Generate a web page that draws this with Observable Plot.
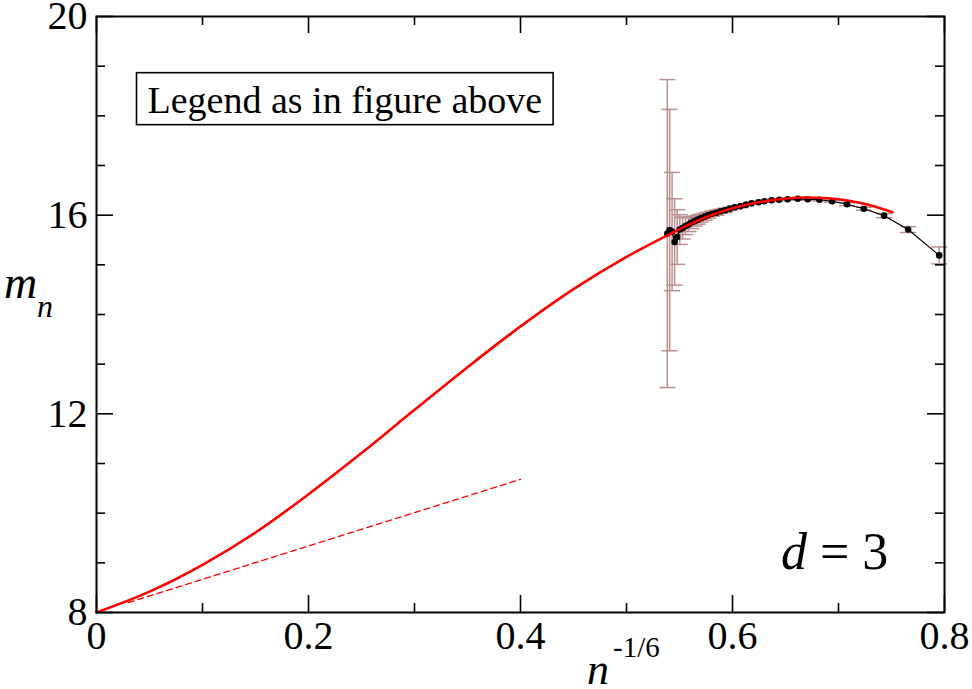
<!DOCTYPE html>
<html>
<head>
<meta charset="utf-8">
<script src="https://cdn.jsdelivr.net/npm/d3@7"></script>
<script src="https://cdn.jsdelivr.net/npm/@observablehq/plot@0.6"></script>
<style>
  html, body { margin: 0; padding: 0; background: #fff; }
  #chart svg { display: block; }
</style>
</head>
<body>
<div id="chart"></div>
<script>
// ---- data ----
const xMajor = [0, 0.2, 0.4, 0.6, 0.8];
const xMinor = [0.1, 0.3, 0.5, 0.7];
const yMajor = [8, 12, 16, 20];
const yMinor = [9, 10, 11, 13, 14, 15, 17, 18, 19];

// simulation points: x = n^(-1/6), m_n, error
const ptX = [0.5385, 0.5407, 0.5430, 0.5454, 0.5478, 0.5503, 0.5529, 0.5556, 0.5584, 0.5612,
             0.5642, 0.5673, 0.5705, 0.5738, 0.5772, 0.5808, 0.5848, 0.5888, 0.5930, 0.5975,
             0.6020, 0.6075, 0.6126, 0.6180, 0.6245, 0.6300, 0.6370, 0.6440, 0.6520, 0.6616,
             0.6710, 0.6820, 0.6940, 0.7080, 0.7239, 0.7430, 0.7657, 0.7950];
const ptY = [15.63, 15.70, 15.67, 15.46, 15.56, 15.71, 15.74, 15.78, 15.81, 15.85,
             15.88, 15.91, 15.94, 15.97, 16.00, 16.03, 16.05, 16.08, 16.10, 16.13,
             16.16, 16.18, 16.21, 16.24, 16.26, 16.28, 16.30, 16.31, 16.32, 16.33,
             16.32, 16.31, 16.28, 16.22, 16.13, 15.99, 15.71, 15.19];
const ptErr = [3.10, 2.43, 1.19, 0.87, 0.55, 0.30, 0.22, 0.17, 0.14, 0.12,
               0.10, 0.09, 0.08, 0.07, 0.06, 0.05, 0.05, 0.04, 0.04, 0.03,
               0.03, 0.03, 0.02, 0.02, 0.02, 0.02, 0.02, 0.02, 0.02, 0.02,
               0.02, 0.02, 0.02, 0.03, 0.03, 0.04, 0.06, 0.17];

// red fit curve
const fitX = [0, 0.05, 0.1, 0.15, 0.2, 0.25, 0.3, 0.35, 0.4, 0.45, 0.5, 0.54,
              0.56, 0.58, 0.60, 0.62, 0.64, 0.66, 0.68, 0.70, 0.72, 0.735, 0.751];
const fitY = [8.0, 8.42, 8.96, 9.61, 10.38, 11.21, 12.08, 12.94, 13.76, 14.51, 15.16, 15.61,
              15.82, 16.00, 16.14, 16.24, 16.31, 16.35, 16.35, 16.32, 16.25, 16.17, 16.06];

// red dashed asymptote
const dashX = [0.03, 0.4];
const dashY = [8.2, 10.68];

const legendText = "Legend as in figure above";

// ---- tables ----
const pts = ptX.map((x, i) => ({x, y: ptY[i], e: ptErr[i]}));
const fit = fitX.map((x, i) => ({x, y: fitY[i]}));
const dash = dashX.map((x, i) => ({x, y: dashY[i]}));

const W = 972, H = 689, mL = 96, mR = 28, mT = 16, mB = 77;
const pW = W - mL - mR, pH = H - mT - mB;
const errColor = "#bc8f8f";
const ff = "'Liberation Serif', 'Times New Roman', serif";
const capSymbol = { draw(ctx) { ctx.moveTo(-8, 0); ctx.lineTo(8, 0); } };

const chart = Plot.plot({
  width: W, height: H,
  marginLeft: mL, marginRight: mR, marginTop: mT, marginBottom: mB,
  style: { fontFamily: ff, fontSize: "40px", background: "#fff", color: "#000", overflow: "visible" },
  x: { domain: [0, 0.8], label: null },
  y: { domain: [8, 20], label: null },
  marks: [
    // error bars
    Plot.ruleX(pts, { x: "x", y1: d => d.y - d.e, y2: d => d.y + d.e, stroke: errColor, strokeWidth: 1.5 }),
    Plot.dot(pts, { x: "x", y: d => d.y + d.e, symbol: capSymbol, stroke: errColor, fill: "none", strokeWidth: 1.5 }),
    Plot.dot(pts, { x: "x", y: d => d.y - d.e, symbol: capSymbol, stroke: errColor, fill: "none", strokeWidth: 1.5 }),
    // data line and points
    Plot.line(pts, { x: "x", y: "y", stroke: "#000", strokeWidth: 1.2 }),
    Plot.dot(pts, { x: "x", y: "y", r: 3.3, fill: "#000", stroke: "none" }),
    // fits
    Plot.line(fit, { x: "x", y: "y", stroke: "#ff0000", strokeWidth: 2.6, curve: "catmull-rom" }),
    Plot.line(dash, { x: "x", y: "y", stroke: "#ff0000", strokeWidth: 1.3, strokeDasharray: "6,4" }),
    // inward ticks on all four sides
    Plot.ruleX(xMajor, { x: d => d, insetTop: pH - 17, stroke: "#000", strokeWidth: 1.6 }),
    Plot.ruleX(xMajor, { x: d => d, insetBottom: pH - 17, stroke: "#000", strokeWidth: 1.6 }),
    Plot.ruleX(xMinor, { x: d => d, insetTop: pH - 9, stroke: "#000", strokeWidth: 1.6 }),
    Plot.ruleX(xMinor, { x: d => d, insetBottom: pH - 9, stroke: "#000", strokeWidth: 1.6 }),
    Plot.ruleY(yMajor, { y: d => d, insetRight: pW - 17, stroke: "#000", strokeWidth: 1.6 }),
    Plot.ruleY(yMajor, { y: d => d, insetLeft: pW - 17, stroke: "#000", strokeWidth: 1.6 }),
    Plot.ruleY(yMinor, { y: d => d, insetRight: pW - 9, stroke: "#000", strokeWidth: 1.6 }),
    Plot.ruleY(yMinor, { y: d => d, insetLeft: pW - 9, stroke: "#000", strokeWidth: 1.6 }),
    Plot.frame({ stroke: "#000", strokeWidth: 2 }),
    // tick labels
    Plot.axisX({ ticks: xMajor, tickSize: 0, tickPadding: 8, tickFormat: d => String(d), fontSize: 40, fontFamily: ff, label: null }),
    Plot.axisY({ ticks: yMajor, tickSize: 0, tickPadding: 9, tickFormat: d => String(d), fontSize: 40, fontFamily: ff, label: null }),
    // legend note
    Plot.text([legendText], { text: d => d, frameAnchor: "top-left", dx: 51, dy: 84, textAnchor: "start", lineAnchor: "middle", fontSize: 38, fontFamily: ff, fill: "#000" })
  ]
});

document.getElementById("chart").appendChild(chart);
const svg = d3.select(chart);

// box around legend note
svg.selectAll("text").filter(function () { return this.textContent === legendText; }).each(function () {
  const b = this.getBBox();
  const r = document.createElementNS("http://www.w3.org/2000/svg", "rect");
  r.setAttribute("x", b.x - 11);
  r.setAttribute("y", b.y - 6);
  r.setAttribute("width", b.width + 22);
  r.setAttribute("height", b.height + 10);
  r.setAttribute("fill", "#fff");
  r.setAttribute("stroke", "#000");
  r.setAttribute("stroke-width", 1.6);
  if (this.getAttribute("transform")) r.setAttribute("transform", this.getAttribute("transform"));
  this.parentNode.insertBefore(r, this);
});

// y label m_n
const yl = svg.append("text").attr("font-family", ff).attr("text-anchor", "start").attr("fill", "#000");
yl.append("tspan").attr("x", 4).attr("y", 298).attr("font-size", 46).attr("font-style", "italic").text("m");
yl.append("tspan").attr("x", 37).attr("y", 317).attr("font-size", 32).attr("font-style", "italic").text("n");
// x label n^-1/6
const xl = svg.append("text").attr("font-family", ff).attr("text-anchor", "start").attr("fill", "#000");
xl.append("tspan").attr("x", 587).attr("y", 684).attr("font-size", 44).attr("font-style", "italic").text("n");
xl.append("tspan").attr("x", 613).attr("y", 657).attr("font-size", 29).text("-1/6");
// d = 3
const dl = svg.append("text").attr("font-family", ff).attr("text-anchor", "start").attr("fill", "#000")
  .attr("x", 781).attr("y", 569).attr("font-size", 52);
dl.append("tspan").attr("font-style", "italic").text("d");
dl.append("tspan").text(" = 3");
</script>
</body>
</html>
